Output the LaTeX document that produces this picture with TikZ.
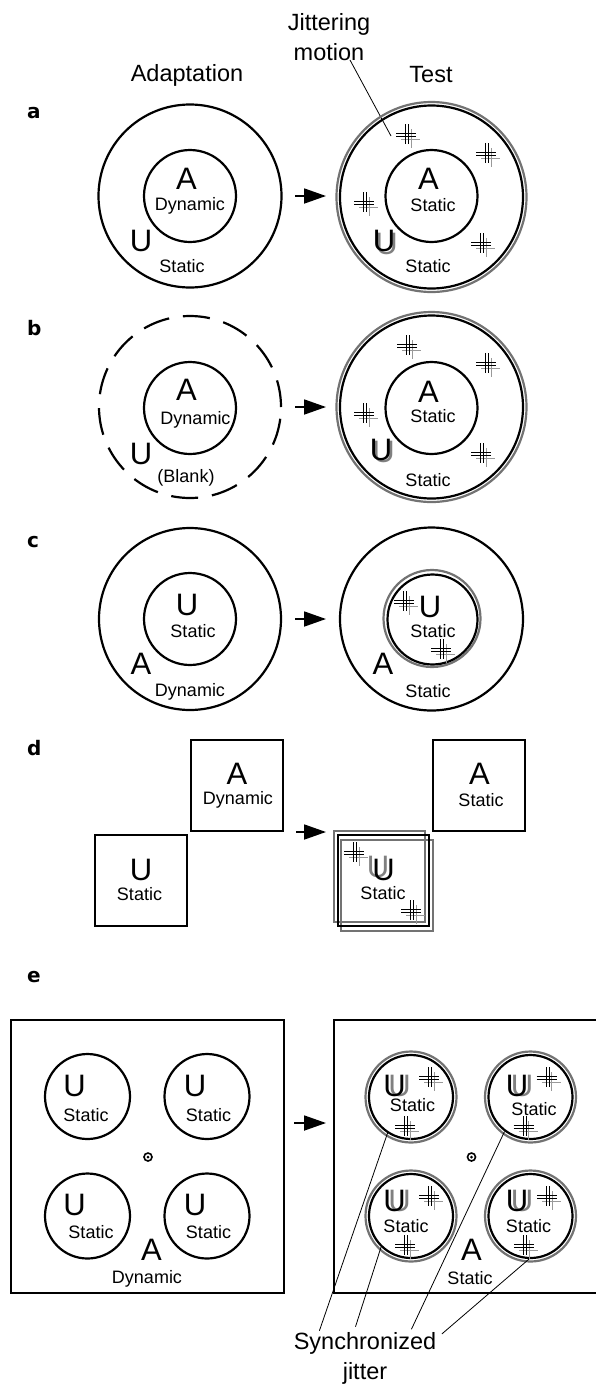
\documentclass[tikz,border=0pt]{standalone}
\usepackage{fontspec}
\setmainfont{Liberation Sans}
\newfontfamily\heavyfont{DejaVu Sans}
\usetikzlibrary{arrows.meta}

\tikzset{
  ring/.style={line width=2.2pt},
  ghost/.style={draw=black!55,line width=2.2pt},
  small/.style={inner sep=0pt,font=\fontsize{18}{20}\selectfont},
  letter/.style={inner sep=0pt,font=\fontsize{31}{34}\selectfont},
  letterghost/.style={letter,text=black!50},
  heading/.style={inner sep=0pt,align=center,font=\fontsize{23.5}{30}\selectfont},
  panel/.style={inner sep=0pt,anchor=base west,font=\heavyfont\bfseries\fontsize{20}{24}\selectfont},
  go/.style={-{Triangle[length=22pt,width=15pt]},line width=1.8pt},
  lead/.style={line width=0.8pt},
  jit/.pic={
    \draw[black!40,line width=0.9pt] (-6,4) -- (13,4) (4,-6) -- (4,13);
    \draw[line width=0.7pt] (-11,-1.5) -- (9,-1.5) (-11,1.5) -- (9,1.5)
      (-1.5,-11) -- (-1.5,9) (1.5,-11) -- (1.5,9);
  }
}

\begin{document}
\begin{tikzpicture}[x=1pt,y=-1pt]
\useasboundingbox (0,0) rectangle (596,1385);
%headings
\node[heading] (adapt) at (187,75) {Adaptation};
\node[heading] (test) at (431,75) {Test};
\node[heading] (jitter) at (329,37) {Jittering\\motion};
\coordinate (jitstart) at (350,60);
\coordinate (jitend) at (391,136);
\draw[lead] (jitstart) -- (jitend);

%panel a
\node[panel] (la) at (27,118) {a};
\draw[ring] (190,196) circle[radius=91.5pt];
\draw[ring] (190,196) circle[radius=46pt];
\node[letter] (aA) at (186.5,179) {A};
\node[small] (aAd) at (190,205.5) {Dynamic};
\node[letter] (aU) at (141,240.5) {U};
\node[small] (aUs) at (182,266.5) {Static};
\draw[go] (295,196) -- (326,196);
\draw[ghost] (431.5,197) circle[radius=95pt];
\draw[ring] (431.5,197) circle[radius=91.5pt];
\draw[ring] (431.5,196) circle[radius=46pt];
\node[letter] (aA2) at (428.5,179) {A};
\node[small] (aAs2) at (433,205.5) {Static};
\node[letterghost] at (386.5,243.5) {U};
\node[letter] (aU2) at (384,241) {U};
\node[small] (aUs2) at (428,266.5) {Static};
\foreach \x/\y in {407/135,487/154,365/203,482/244}
  \pic at (\x,\y) {jit};

%panel b
\node[panel] (lb) at (27,335) {b};
\draw[ring,dash pattern=on 27pt off 14pt] (190,407) circle[radius=91pt];
\draw[ring] (190,408) circle[radius=46pt];
\node[letter] (bA) at (186.5,390) {A};
\node[small] (bAd) at (195.5,419.5) {Dynamic};
\node[letter] (bU) at (141,453.5) {U};
\node[small] (bUb) at (186,477.5) {(Blank)};
\draw[go] (295,407) -- (326,407);
\draw[ghost] (431.5,407) circle[radius=95pt];
\draw[ring] (431.5,407) circle[radius=91.5pt];
\draw[ring] (431.5,408) circle[radius=46pt];
\node[letter] (bA2) at (428.5,391.5) {A};
\node[small] (bAs2) at (433,416) {Static};
\node[letterghost] at (383.5,452) {U};
\node[letter] (bU2) at (381,449.5) {U};
\node[small] (bUs2) at (428,480) {Static};
\foreach \x/\y in {408/346,487/364,365/414,482/454}
  \pic at (\x,\y) {jit};

%panel c
\node[panel] (lc) at (27,547) {c};
\draw[ring] (190,619) circle[radius=91pt];
\draw[ring] (190,619) circle[radius=46pt];
\node[letter] (cU) at (187,605) {U};
\node[small] (cUs) at (193,631.5) {Static};
\node[letter] (cA) at (141,664) {A};
\node[small] (cAd) at (190,691.5) {Dynamic};
\draw[go] (295,619) -- (326,619);
\draw[ring] (431.5,619) circle[radius=91.5pt];
\draw[ghost] (432,618.5) circle[radius=48.5pt];
\draw[ring] (432.5,619.5) circle[radius=45pt];
\node[letter] (cU2) at (430,607) {U};
\node[small] (cUs2) at (433,631.5) {Static};
\node[letter] (cA2) at (383,664) {A};
\node[small] (cAs2) at (428,691.5) {Static};
\foreach \x/\y in {405/602,442/650}
  \pic at (\x,\y) {jit};

%panel d
\node[panel] (ld) at (27,755) {d};
\draw[ring] (191,740) rectangle (283,831);
\node[letter] (dA) at (237,774) {A};
\node[small] (dAd) at (238,800) {Dynamic};
\draw[ring] (95,835) rectangle (187,926);
\node[letter] (dU) at (141,870) {U};
\node[small] (dUs) at (139.5,894) {Static};
\draw[go] (296,832) -- (326,832);
\draw[ring] (433,740) rectangle (525,831);
\node[letter] (dA2) at (479.5,774) {A};
\node[small] (dAs2) at (481,800) {Static};
\draw[ghost] (334,831) rectangle (425,922);
\draw[ghost] (341,840) rectangle (433,931);
\draw[ring] (338,835) rectangle (429,926);
\node[letterghost] at (378,867) {U};
\node[letter] (dU2) at (383.5,870) {U};
\node[small] (dUs2) at (383,893) {Static};
\foreach \x/\y in {355/853,412/911}
  \pic at (\x,\y) {jit};

%panel e
\node[panel] (le) at (27,982) {e};
\draw[ring] (11,1020) rectangle (284,1293);
\foreach \x/\y in {87.5/1096.5,207/1096.5,87.5/1216,207/1216}
  \draw[ring] (\x,\y) circle[radius=42.5pt];
\node[letter] (eU1) at (74.5,1085.5) {U};
\node[small] (eS1) at (86,1115) {Static};
\node[letter] (eU2) at (195,1085.5) {U};
\node[small] (eS2) at (208.5,1115) {Static};
\node[letter] (eU3) at (74.5,1205) {U};
\node[small] (eS3) at (91,1232) {Static};
\node[letter] (eU4) at (195,1205) {U};
\node[small] (eS4) at (208.5,1232) {Static};
\draw[line width=1.6pt] (148,1157) circle[radius=4pt];
\fill (148,1157) circle[radius=1.5pt];
\node[letter] (eA) at (151.5,1250) {A};
\node[small] (eAd) at (147,1278.5) {Dynamic};
\draw[go] (294,1123) -- (326,1123);
\draw[ring] (597,1020) -- (334,1020) -- (334,1293) -- (597,1293);
\foreach \x/\y in {411/1097,530.5/1097,411/1216,530.5/1216}
  \draw[ghost] (\x,\y) circle[radius=45.5pt];
\node[ring,draw,circle,inner sep=0pt,minimum size=84pt] (eTL) at (411,1097) {};
\node[ring,draw,circle,inner sep=0pt,minimum size=84pt] (eTR) at (530.5,1097) {};
\node[ring,draw,circle,inner sep=0pt,minimum size=84pt] (eBL) at (411,1216) {};
\node[ring,draw,circle,inner sep=0pt,minimum size=84pt] (eBR) at (530.5,1216) {};
\foreach \x/\y in {394.5/1085.5,517/1085.5,394.5/1201,517/1201}{
  \node[letterghost] at (\x+5,\y) {U};
  \node[letter] at (\x,\y) {U};
}
\node[small] (eS5) at (412.5,1105.5) {Static};
\node[small] (eS6) at (534,1109) {Static};
\node[small] (eS7) at (406,1226.5) {Static};
\node[small] (eS8) at (528.5,1226.5) {Static};
\foreach \x/\y in {430/1078,406/1127,547.5/1078,524.7/1127,430/1197,406/1246,548/1197,525/1246}
  \pic at (\x,\y) {jit};
\draw[line width=1.6pt] (471.5,1157) circle[radius=4pt];
\fill (471.5,1157) circle[radius=1.5pt];
\node[letter] (eA2) at (471.5,1250) {A};
\node[small] (eAs2) at (470,1278.5) {Static};
%synchronized jitter
\node[heading] (sync) at (365,1358) {Synchronized\\jitter};
\coordinate (s1) at (319.4,1330.7);
\coordinate (s2) at (355.5,1326.7);
\coordinate (s3) at (411.4,1329.3);
\coordinate (s4) at (441.8,1334);
\draw[lead] (s1) -- (eTL.237);
\draw[lead] (s2) -- (eBL.226);
\draw[lead] (s3) -- (eTR.233);
\draw[lead] (s4) -- (eBR.268);
\end{tikzpicture}
\end{document}
